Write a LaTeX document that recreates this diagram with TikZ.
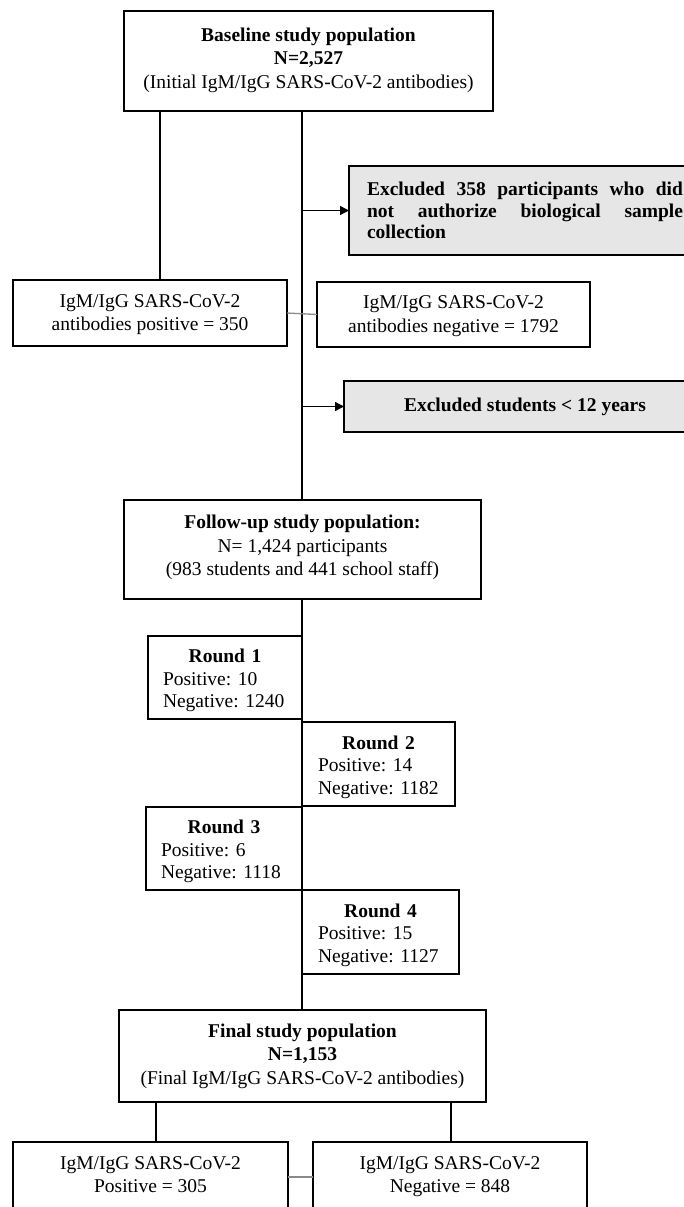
\documentclass[tikz,border=0pt]{standalone}
\usepackage{fontspec}
\setmainfont{Liberation Serif}
\usetikzlibrary{arrows.meta}
\definecolor{exgrey}{HTML}{E6E6E6}
\definecolor{linkgrey}{HTML}{8A8A8A}
\newcommand{\xdep}[1]{\rule[-#1]{0pt}{#1}}
\newcommand{\xhgt}[1]{\rule{0pt}{#1}}
\begin{document}
\begin{tikzpicture}[x=1pt,y=-1pt,
  box/.style={draw=black,line width=1.7pt,fill=white,inner sep=0pt,outer sep=0pt,
    align=center,font=\fontsize{19.5}{23.5}\selectfont\frenchspacing},
  exbox/.style={box,fill=exgrey},
  roundbox/.style={box,align=left,font=\fontsize{19.5}{22.5}\selectfont\frenchspacing},
  conn/.style={line width=1.7pt},
  greyconn/.style={line width=1.3pt,draw=linkgrey},
  arr/.style={line width=1.4pt,-{Triangle[length=9pt,width=9pt]}}]
\useasboundingbox (0,0) rectangle (684,1207);
\clip (0,0) rectangle (684,1207);
\fill[white] (0,0) rectangle (684,1207);
\coordinate (spine) at (302,0);
\coordinate (lx) at (160,0);
\coordinate (flx) at (156,0);
\coordinate (frx) at (451,0);

\node[box,minimum width=369pt,minimum height=100pt] (top) at (308.5,61)
  {\textbf{Baseline study population}\\\textbf{N=2,527}\\(Initial IgM/IgG SARS-CoV-2 antibodies)\xdep{6pt}};

\node[exbox,minimum width=352pt,minimum height=89pt,text width=316pt,align=left,
  font=\fontsize{19.5}{21.5}\selectfont\bfseries] (ex1) at (525,210.5)
  {\makebox[316pt]{Excluded\hfill 358\hfill participants\hfill who\hfill did}\\
   \makebox[316pt]{not\hfill authorize\hfill biological\hfill sample}\\
   collection};

\node[box,minimum width=274pt,minimum height=66pt] (pos) at (150,313)
  {\xhgt{16pt}IgM/IgG SARS-CoV-2\\antibodies positive = 350};
\node[box,minimum width=273pt,minimum height=65pt] (neg) at (453.5,314.5)
  {\xhgt{16pt}IgM/IgG SARS-CoV-2\\antibodies negative = 1792};

\node[exbox,minimum width=362pt,minimum height=51pt] (ex2) at (525,406.5)
  {\textbf{Excluded students < 12 years}};

\node[box,minimum width=357pt,minimum height=99pt] (fu) at (302.5,549.5)
  {\textbf{Follow-up study population:}\\N= 1,424 participants\\(983 students and 441 school staff)\xdep{8pt}};

\node[roundbox,minimum width=154pt,minimum height=83pt,text width=124pt] (r1) at (225,677.5)
  {\makebox[124pt]{\xhgt{20pt}\textbf{Round 1}}\\Positive: 10\\Negative: 1240};
\node[roundbox,minimum width=153pt,minimum height=84pt,text width=121pt] (r2) at (378.5,764)
  {\makebox[121pt]{\xhgt{20pt}\textbf{Round 2}}\\Positive: 14\\Negative: 1182};
\node[roundbox,minimum width=156pt,minimum height=83pt,text width=126pt] (r3) at (224,848.5)
  {\makebox[126pt]{\xhgt{20pt}\textbf{Round 3}}\\Positive: 6\\Negative: 1118};
\node[roundbox,minimum width=157pt,minimum height=84pt,text width=125pt] (r4) at (380.5,932)
  {\makebox[125pt]{\xhgt{20pt}\textbf{Round 4}}\\Positive: 15\\Negative: 1127};

\node[box,minimum width=367pt,minimum height=92pt] (fin) at (302.5,1056)
  {\textbf{Final study population}\\\textbf{N=1,153}\\(Final IgM/IgG SARS-CoV-2 antibodies)};

\node[box,minimum width=275pt,minimum height=70pt] (bl) at (150.5,1177)
  {IgM/IgG SARS-CoV-2\\Positive = 305\xdep{5pt}};
\node[box,minimum width=274pt,minimum height=70pt] (br) at (450,1177)
  {IgM/IgG SARS-CoV-2\\Negative = 848\xdep{5pt}};

% connectors
\draw[conn] (top.south -| lx) -- (pos.north -| lx);
\draw[conn] (top.south -| spine) -- (fu.north -| spine);
\draw[arr] (ex1.west -| spine) -- (ex1.west);
\draw[arr] (ex2.west -| spine) -- (ex2.west);
\draw[greyconn] (pos.east) -- (neg.west);
\draw[conn] (fu.south -| spine) -- (fin.north -| spine);
\draw[conn] (fin.south -| flx) -- (bl.north -| flx);
\draw[conn] (fin.south -| frx) -- (br.north -| frx);
\draw[greyconn] (bl.east) -- (br.west);
\end{tikzpicture}
\end{document}
